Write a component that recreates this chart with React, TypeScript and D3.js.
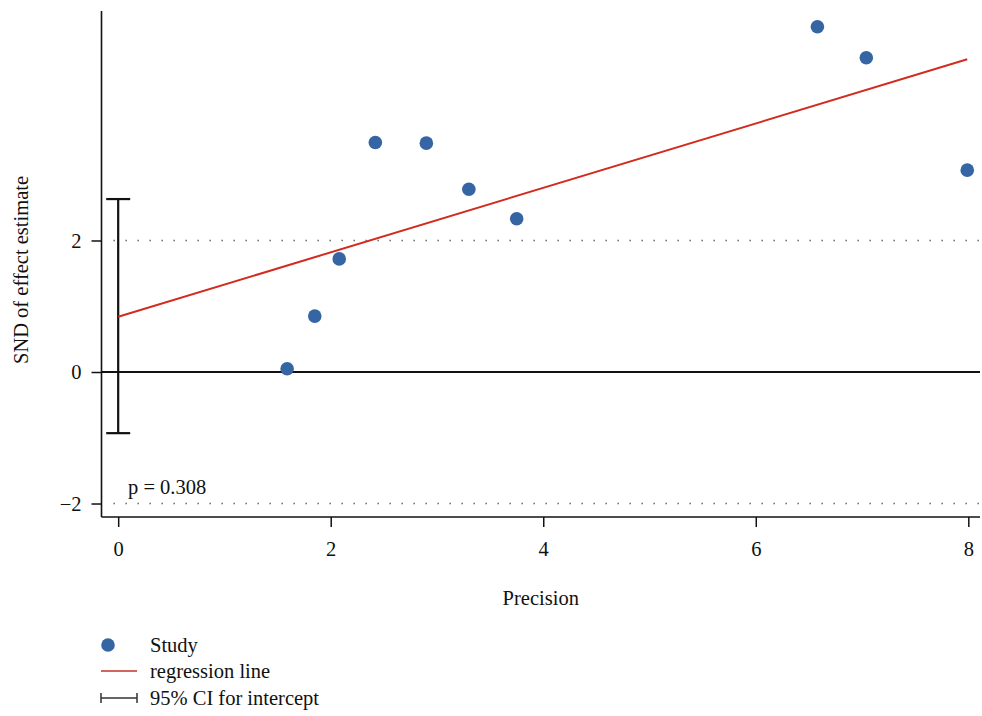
import React, { useRef, useEffect } from "react";
import * as d3 from "d3";

// study points
const precision = [1.59, 1.85, 2.08, 2.42, 2.9, 3.3, 3.75, 6.58, 7.04, 7.99];
const snd = [0.05, 0.85, 1.72, 3.49, 3.48, 2.78, 2.33, 5.25, 4.78, 3.07];

const intercept = 0.84;
const slope = 0.49;
const ciLow = -0.93;
const ciHigh = 2.63;
const pLabel = "p = 0.308";

const xTicks = [0, 2, 4, 6, 8];
const yTicks = [-2, 0, 2];
const refLines = [-2, 2];

const legendItems = ["Study", "regression line", "95% CI for intercept"];

const FONT = "'Liberation Serif', 'DejaVu Serif', serif";
const FS = 20.5;

const App = () => {
  const ref = useRef<HTMLDivElement>(null);

  useEffect(() => {
    const width = 982;
    const height = 716;
    const left = 101.5;
    const right = 980;
    const top = 11;
    const bottom = 517;

    d3.select(ref.current).select("svg").remove();

    const svg = d3
      .select(ref.current)
      .append("svg")
      .attr("width", width)
      .attr("height", height)
      .style("position", "absolute")
      .style("left", "0px")
      .style("top", "0px")
      .style("font-family", FONT);

    const x = d3.scaleLinear().domain([-0.157, 8.11]).range([left, right]);
    const y = d3.scaleLinear().domain([-2.205, 5.49]).range([bottom, top]);

    // dotted reference lines at +-2
    svg
      .selectAll(".ref")
      .data(refLines)
      .enter()
      .append("line")
      .attr("x1", left + 12)
      .attr("x2", right)
      .attr("y1", (d) => y(d))
      .attr("y2", (d) => y(d))
      .attr("stroke", "#555")
      .attr("stroke-width", 1.3)
      .attr("stroke-dasharray", "1.3 10.7");

    // zero line
    svg
      .append("line")
      .attr("x1", left)
      .attr("x2", right)
      .attr("y1", y(0))
      .attr("y2", y(0))
      .attr("stroke", "#111")
      .attr("stroke-width", 1.8);

    // axes
    svg
      .append("g")
      .attr("transform", `translate(0,${bottom})`)
      .call(d3.axisBottom(x).tickValues(xTicks).tickSize(10).tickPadding(14).tickFormat(d3.format("d")))
      .call((g) => g.select(".domain").attr("d", `M${left},0H${right}`))
      .call((g) => g.selectAll("line").attr("stroke-width", 1.5).attr("stroke", "#111"))
      .call((g) => g.selectAll("text").attr("font-size", FS).attr("font-family", FONT).attr("fill", "#111"));

    svg
      .append("g")
      .attr("transform", `translate(${left},0)`)
      .call(d3.axisLeft(y).tickValues(yTicks).tickSize(10).tickPadding(10).tickFormat((d) => d3.format("d")(d as number).replace("-", "\u2212")))
      .call((g) => g.select(".domain").attr("d", `M0,${top}V${bottom}`))
      .call((g) => g.selectAll("line").attr("stroke-width", 1.5).attr("stroke", "#111"))
      .call((g) => g.selectAll("text").attr("font-size", FS).attr("font-family", FONT).attr("fill", "#111"));

    svg.selectAll(".domain").attr("stroke", "#111").attr("stroke-width", 1.6);

    // CI for intercept
    const capW = 12;
    const ci = svg.append("g").attr("stroke", "#111").attr("stroke-width", 2.2);
    ci.append("line").attr("x1", x(0)).attr("x2", x(0)).attr("y1", y(ciHigh)).attr("y2", y(ciLow));
    [ciLow, ciHigh].forEach((v) => {
      ci.append("line")
        .attr("x1", x(0) - capW)
        .attr("x2", x(0) + capW)
        .attr("y1", y(v))
        .attr("y2", y(v));
    });

    // regression line
    const xMax = d3.max(precision) as number;
    svg
      .append("path")
      .datum([0, xMax])
      .attr("fill", "none")
      .attr("stroke", "#d22b1f")
      .attr("stroke-width", 2)
      .attr(
        "d",
        d3
          .line<number>()
          .x((d) => x(d))
          .y((d) => y(intercept + slope * d))
      );

    // points
    svg
      .selectAll(".pt")
      .data(precision)
      .enter()
      .append("circle")
      .attr("cx", (d) => x(d))
      .attr("cy", (d, i) => y(snd[i]))
      .attr("r", 6.8)
      .attr("fill", "#3566a3");

    // p value
    svg
      .append("text")
      .attr("x", 128)
      .attr("y", y(-2) - 10)
      .attr("font-size", FS)
      .attr("fill", "#111")
      .text(pLabel);

    // axis titles
    svg
      .append("text")
      .attr("x", (left + right) / 2)
      .attr("y", 605)
      .attr("text-anchor", "middle")
      .attr("font-size", FS)
      .attr("fill", "#111")
      .text("Precision");

    svg
      .append("text")
      .attr("transform", `translate(28,${(top + bottom) / 2 + 6}) rotate(-90)`)
      .attr("text-anchor", "middle")
      .attr("font-size", FS)
      .attr("fill", "#111")
      .text("SND of effect estimate");

    // legend
    const lg = svg.append("g");
    const rowY = [645, 671, 698];
    lg.append("circle").attr("cx", 108).attr("cy", rowY[0]).attr("r", 6.8).attr("fill", "#3566a3");
    lg.append("line")
      .attr("x1", 101)
      .attr("x2", 137)
      .attr("y1", rowY[1])
      .attr("y2", rowY[1])
      .attr("stroke", "#d2665e")
      .attr("stroke-width", 2);
    lg.append("line")
      .attr("x1", 101)
      .attr("x2", 137)
      .attr("y1", rowY[2])
      .attr("y2", rowY[2])
      .attr("stroke", "#333")
      .attr("stroke-width", 1.5);
    [101, 137].forEach((px) => {
      lg.append("line")
        .attr("x1", px)
        .attr("x2", px)
        .attr("y1", rowY[2] - 5)
        .attr("y2", rowY[2] + 5)
        .attr("stroke", "#333")
        .attr("stroke-width", 1.5);
    });
    lg.selectAll(".lt")
      .data(legendItems)
      .enter()
      .append("text")
      .attr("x", 150)
      .attr("y", (d, i) => rowY[i] + 7)
      .attr("font-size", FS)
      .attr("fill", "#111")
      .text((d) => d);
  }, []);

  return <div ref={ref}></div>;
};

export default App;
